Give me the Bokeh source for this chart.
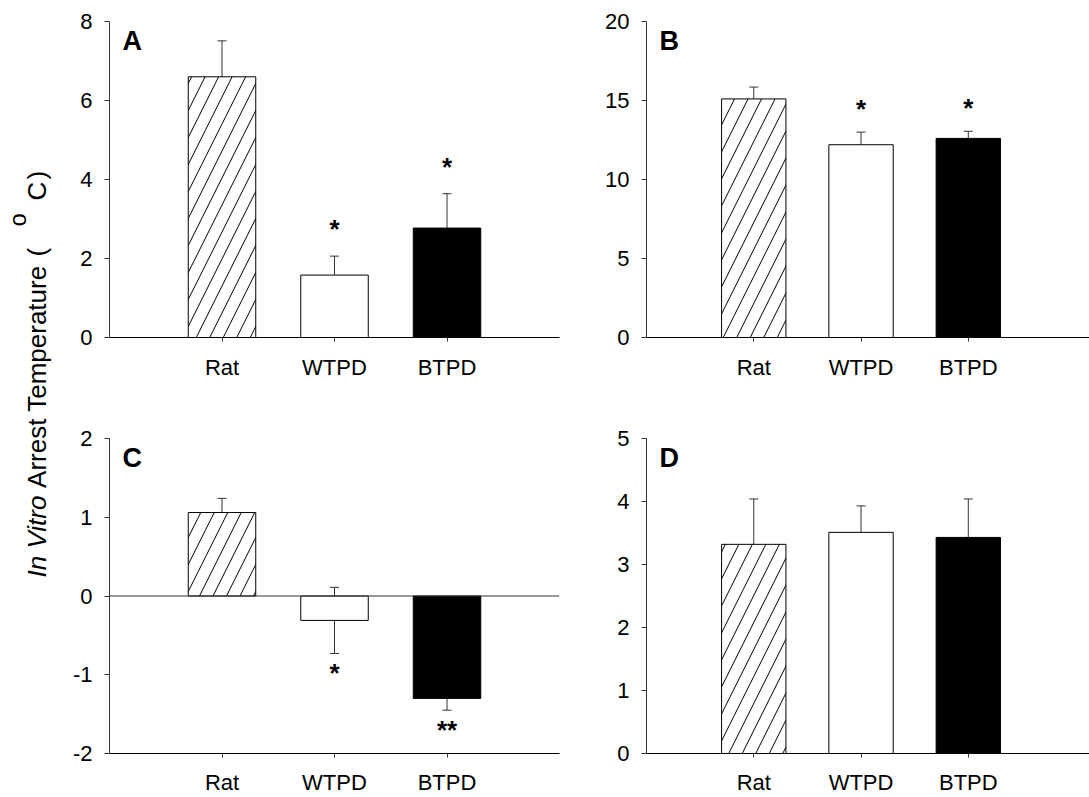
import math
from bokeh.plotting import figure
from bokeh.models import Range1d, FixedTicker, Whisker, TeeHead, Span, Label, ColumnDataSource
from bokeh.layouts import row, column
from bokeh.embed import file_html
from bokeh.resources import INLINE
from bokeh.core.properties import value

FONT = "Liberation Sans"

# ---------------- data ----------------
categories = ["Rat", "WTPD", "BTPD"]

a_means = [6.60, 1.58, 2.77]
a_errs = [0.91, 0.48, 0.87]
a_sig = ["", "*", "*"]
a_ticks = [0, 2, 4, 6, 8]

b_means = [15.1, 12.2, 12.6]
b_errs = [0.75, 0.80, 0.45]
b_sig = ["", "*", "*"]
b_ticks = [0, 5, 10, 15, 20]

c_means = [1.06, -0.31, -1.30]
c_errs = [0.18, 0.42, 0.15]
c_sig = ["", "*", "**"]
c_ticks = [-2, -1, 0, 1, 2]

d_means = [3.32, 3.51, 3.43]
d_errs = [0.72, 0.42, 0.61]
d_sig = ["", "", ""]
d_ticks = [0, 1, 2, 3, 4, 5]

# styles
bar_fills = ["white", "white", "black"]
bar_hatches = ["/", " ", " "]
AXIS_GRAY = "#333333"


def make_panel(letter, means, errs, sig, ticks, width, height, b_left, b_right,
               b_top, b_bottom, x_end, both=False, zero=False, gap_up=27,
               gap_down=20, x_standoff=13):
    frame_w = width - b_left - b_right
    frame_h = height - b_top - b_bottom
    ymin, ymax = ticks[0], ticks[-1]
    px_y = (ymax - ymin) / frame_h
    px_x = x_end / frame_w
    xs = [i + 1 for i in range(len(categories))]

    p = figure(width=width, height=height, x_range=Range1d(0, x_end),
               y_range=Range1d(ymin, ymax), output_backend="svg",
               toolbar_location=None, min_border_left=b_left,
               min_border_right=b_right, min_border_top=b_top,
               min_border_bottom=b_bottom)
    p.outline_line_color = None
    p.xgrid.visible = False
    p.ygrid.visible = False
    p.background_fill_color = "white"
    p.border_fill_color = "white"

    src = ColumnDataSource(dict(x=xs, top=means, fill=bar_fills, hatch=bar_hatches))
    p.vbar(x="x", top="top", bottom=0, width=0.6, source=src,
           fill_color="fill", line_color="black", line_width=1,
           hatch_pattern="hatch", hatch_color="black", hatch_scale=27,
           hatch_weight=1)

    uppers = [m + e for m, e in zip(means, errs)]
    if both:
        lowers = [m - e for m, e in zip(means, errs)]
    else:
        lowers = list(means)
    wsrc = ColumnDataSource(dict(base=xs, upper=uppers, lower=lowers))
    w = Whisker(base="base", upper="upper", lower="lower", source=wsrc,
                line_color=AXIS_GRAY, line_width=1,
                upper_head=TeeHead(size=9, line_color=AXIS_GRAY, line_width=1),
                lower_head=TeeHead(size=9, line_color=AXIS_GRAY, line_width=1) if both else None)
    p.add_layout(w)

    if zero:
        p.add_layout(Span(location=0, dimension="width", line_color=AXIS_GRAY, line_width=1))

    sx, sy, st = [], [], []
    for x, m, u, lo, s in zip(xs, means, uppers, lowers, sig):
        if not s:
            continue
        sx.append(x)
        st.append(s)
        if m >= 0:
            sy.append(u + gap_up * px_y)
        else:
            sy.append(lo - gap_down * px_y)
    if st:
        p.text(x=sx, y=sy, text=st, text_font=value(FONT), text_font_style="bold",
               text_font_size="26px", text_align="center", text_baseline="alphabetic",
               text_color="black")

    p.add_layout(Label(x=13 * px_x, y=ymax - 19 * px_y, text=letter,
                       text_font=FONT, text_font_style="bold", text_font_size="27px",
                       text_baseline="alphabetic", text_align="left", text_color="black"))

    # axes
    p.yaxis.ticker = FixedTicker(ticks=ticks)
    p.yaxis.major_label_overrides = {t: str(t) for t in ticks}
    p.yaxis.major_tick_in = 0
    p.yaxis.major_tick_out = 5
    p.yaxis.minor_tick_line_color = None
    p.yaxis.axis_line_color = AXIS_GRAY
    p.yaxis.major_tick_line_color = AXIS_GRAY
    p.yaxis.major_label_text_font = FONT
    p.yaxis.major_label_text_font_size = "22px"
    p.yaxis.major_label_text_color = "black"
    p.yaxis.major_label_standoff = 12

    p.xaxis.ticker = FixedTicker(ticks=xs)
    p.xaxis.major_label_overrides = {x: c for x, c in zip(xs, categories)}
    p.xaxis.major_tick_in = 0
    p.xaxis.major_tick_out = 4
    p.xaxis.minor_tick_line_color = None
    p.xaxis.axis_line_color = "black"
    p.xaxis.major_tick_line_color = AXIS_GRAY
    p.xaxis.major_label_text_font = FONT
    p.xaxis.major_label_text_font_size = "22px"
    p.xaxis.major_label_text_color = "black"
    p.xaxis.major_label_standoff = x_standoff
    return p


pa = make_panel("A", a_means, a_errs, a_sig, a_ticks, 500, 400, 49, 1, 21, 63, 4.0,
                gap_up=27)
pb = make_panel("B", b_means, b_errs, b_sig, b_ticks, 529, 400, 86, 0, 21, 63, 4.13,
                gap_up=23)
pc = make_panel("C", c_means, c_errs, c_sig, c_ticks, 500, 397, 49, 1, 38, 44, 4.0,
                both=True, zero=True, gap_down=20, x_standoff=12)
pd = make_panel("D", d_means, d_errs, d_sig, d_ticks, 529, 397, 86, 0, 38, 44, 4.13,
                x_standoff=12)

# ---------------- shared y title ----------------
ARIAL_W = {"I": 278, "n": 556, " ": 278, "V": 667, "i": 222, "t": 278, "r": 333,
           "o": 556, "A": 667, "e": 556, "s": 500, "T": 611, "m": 833, "p": 556,
           "a": 556, "u": 556, "(": 333, ")": 333, "C": 722}


def text_w(s, size):
    return sum(ARIAL_W.get(ch, 556) for ch in s) * size / 1000.0


TW, TH = 60, 797
tf = figure(width=TW, height=TH, x_range=Range1d(0, TW), y_range=Range1d(0, TH),
            output_backend="svg", toolbar_location=None, min_border=0)
tf.axis.visible = False
tf.grid.visible = False
tf.outline_line_color = None
tf.border_fill_color = "white"
tf.background_fill_color = "white"

TSIZE = 26
base_x = 36
start = TH - 577          # bottom end of the rotated title
s1 = start
s2 = s1 + text_w("In Vitro ", TSIZE)
# (text, style, size, raise in px, start position along the text in px)
pieces = [("In Vitro", "italic", TSIZE, 0, s1),
          ("Arrest Temperature", "normal", TSIZE, 0, s2),
          ("(", "normal", TSIZE, 0, TH - 256),
          ("o", "normal", 24, 19, TH - 226),
          ("C", "normal", TSIZE, 0, TH - 200),
          (")", "normal", TSIZE, 0, TH - 179)]
for txt, style, size, raise_px, pos in pieces:
    tf.add_layout(Label(x=base_x - raise_px, y=pos, text=txt, angle=math.pi / 2,
                        text_font=FONT, text_font_style=style,
                        text_font_size=f"{size}px", text_align="left",
                        text_baseline="alphabetic", text_color="black"))

layout = row(tf, column(row(pa, pb), row(pc, pd)))

open("out.html", "w").write(file_html(layout, INLINE))
